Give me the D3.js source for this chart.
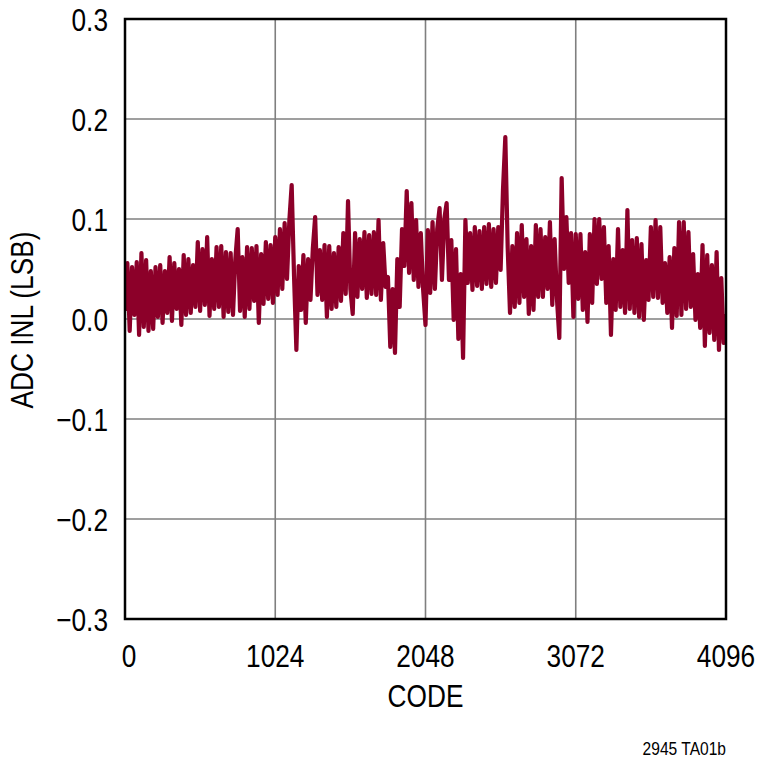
<!DOCTYPE html>
<html>
<head>
<meta charset="utf-8">
<script src="https://cdn.jsdelivr.net/npm/d3@7"></script>
<style>
  body { margin: 0; background: #fff; }
</style>
</head>
<body>
<div id="canvas"></div>
<script>
"use strict"

/* Data: INL (LSB) every 16 codes, 0..4096 */
let codeStep = 16
let inlValues = [
    0.008, 0.056, -0.012, 0.052, 0.004, 0.057, -0.016, 0.066,
    -0.008, 0.059, -0.012, 0.048, -0.01, 0.052, 0.002, 0.054,
    -0.004, 0.048, 0.006, 0.062, -0.002, 0.056, 0.01, 0.05,
    -0.006, 0.064, 0.004, 0.06, 0.006, 0.054, 0.012, 0.077,
    0.008, 0.07, 0.014, 0.082, 0.003, 0.06, 0.01, 0.072,
    0.012, 0.073, 0.002, 0.067, 0.007, 0.066, 0.004, 0.06,
    0.09, 0.008, 0.062, 0.002, 0.072, 0.01, 0.071, 0.018,
    0.073, -0.004, 0.065, 0.015, 0.077, 0.02, 0.074, 0.016,
    0.082, 0.024, 0.09, 0.03, 0.096, 0.04, 0.098, 0.134,
    0.043, -0.031, 0.053, 0.009, 0.064, -0.004, 0.06, 0.019,
    0.07, 0.102, 0.024, 0.069, 0.019, 0.074, 0.002, 0.073,
    0.01, 0.066, 0.012, 0.072, 0.018, 0.086, 0.025, 0.118,
    0.03, 0.005, 0.086, 0.022, 0.08, 0.03, 0.087, 0.021,
    0.084, 0.025, 0.087, 0.024, 0.099, 0.019, 0.076, 0.032,
    0.042, -0.028, 0.03, -0.034, 0.06, 0.012, 0.09, 0.053,
    0.128, 0.046, 0.116, 0.039, 0.099, 0.032, 0.086, 0.029,
    -0.006, 0.089, 0.026, 0.097, 0.03, 0.09, 0.111, 0.039,
    0.1, 0.116, 0.039, 0.079, -0.001, 0.07, -0.02, 0.045,
    -0.039, 0.099, 0.036, 0.086, 0.029, 0.092, 0.033, 0.088,
    0.03, 0.092, 0.035, 0.095, 0.032, 0.09, 0.036, 0.092,
    0.049, 0.129, 0.182, 0.072, 0.006, 0.073, 0.012, 0.086,
    0.016, 0.094, 0.022, 0.08, 0.005, 0.073, 0.009, 0.094,
    0.022, 0.09, 0.022, 0.082, 0.03, 0.097, 0.014, 0.08,
    0.02, -0.019, 0.141, 0.05, 0.102, 0.036, 0.086, 0.002,
    0.085, 0.02, 0.085, 0.009, 0.067, -0.003, 0.085, 0.016,
    0.1, 0.035, 0.1, 0.04, 0.092, 0.016, 0.073, -0.016,
    0.06, 0.009, 0.09, 0.012, 0.069, 0.006, 0.109, 0.01,
    0.079, 0.006, 0.081, 0.002, 0.075, -0.001, 0.059, 0.019,
    0.092, 0.022, 0.099, 0.021, 0.092, 0.016, 0.056, 0.006,
    0.062, -0.009, 0.071, 0.003, 0.097, 0.004, 0.097, 0.01,
    0.087, 0.012, 0.065, -0.001, 0.045, -0.009, 0.074, -0.027,
    0.064, -0.014, 0.054, -0.021, 0.067, -0.031, 0.041, -0.024,
    0.005
]
let xTicks = [0, 1024, 2048, 3072, 4096]
let yTicks = [-0.3, -0.2, -0.1, 0, 0.1, 0.2, 0.3]

let svgWidth = 760
let svgHeight = 765
let margin = {
    top: 19,
    right: 34,
    bottom: 146,
    left: 125
}
let plotWidth = svgWidth - margin.left - margin.right
let plotHeight = svgHeight - margin.top - margin.bottom
/* condensed look: Liberation Sans squeezed horizontally */
let fontFamily = "'Liberation Sans', Arial, sans-serif"
let squeeze = 0.82

/*Create drawing canvas*/
let svg = d3.select("#canvas")
    .append("svg")
    .attr("width", svgWidth)
    .attr("height", svgHeight)

let viz = svg.append("g")
    .attr("transform", `translate(${margin.left},${margin.top})`)

/* scales */
let xScale = d3.scaleLinear()
    .domain([0, 4096])
    .range([0, plotWidth])

let yScale = d3.scaleLinear()
    .domain([-0.3, 0.3])
    .range([plotHeight, 0])

/* grid lines */
viz.selectAll("line.vgrid")
    .data(xTicks.slice(1, -1))
    .join("line")
    .classed("vgrid", true)
    .attr("x1", d => xScale(d))
    .attr("x2", d => xScale(d))
    .attr("y1", 0)
    .attr("y2", plotHeight)
    .attr("stroke", "#7f7f7f")
    .attr("stroke-width", 1.6)

viz.selectAll("line.hgrid")
    .data(yTicks.slice(1, -1))
    .join("line")
    .classed("hgrid", true)
    .attr("x1", 0)
    .attr("x2", plotWidth)
    .attr("y1", d => yScale(d))
    .attr("y2", d => yScale(d))
    .attr("stroke", "#7f7f7f")
    .attr("stroke-width", 1.6)

/* the INL trace, clipped to the plot box */
svg.append("clipPath")
    .attr("id", "plotClip")
    .append("rect")
    .attr("width", plotWidth)
    .attr("height", plotHeight)

let line = d3.line()
    .x((d, i) => xScale(i * codeStep))
    .y(d => yScale(d))

viz.append("path")
    .datum(inlValues)
    .attr("clip-path", "url(#plotClip)")
    .attr("d", line)
    .attr("fill", "none")
    .attr("stroke", "#8c0029")
    .attr("stroke-width", 4.2)
    .attr("stroke-linejoin", "round")

/* plot frame */
viz.append("rect")
    .attr("width", plotWidth)
    .attr("height", plotHeight)
    .attr("fill", "none")
    .attr("stroke", "black")
    .attr("stroke-width", 2.5)

/* helper for squeezed text placed at (x, y) */
function squeezed(sel, x, y) {
    return sel.attr("transform", `translate(${x},${y}) scale(${squeeze},1)`)
}

/* tick labels */
let yFormat = d3.format(".1f")
viz.selectAll("text.ytick")
    .data(yTicks)
    .join("text")
    .classed("ytick", true)
    .attr("transform", d => `translate(-17,${yScale(d) + 11.5}) scale(${squeeze},1)`)
    .attr("text-anchor", "end")
    .style("font-family", fontFamily)
    .style("font-size", "32px")
    .text(d => yFormat(d))

viz.selectAll("text.xtick")
    .data(xTicks)
    .join("text")
    .classed("xtick", true)
    .attr("transform", d => `translate(${xScale(d) + (d === 0 ? 4 : 0)},${plotHeight + 48}) scale(${squeeze},1)`)
    .attr("text-anchor", "middle")
    .style("font-family", fontFamily)
    .style("font-size", "32px")
    .text(d => d)

/* axis titles */
viz.append("text")
    .call(squeezed, plotWidth / 2, plotHeight + 88)
    .attr("text-anchor", "middle")
    .style("font-family", fontFamily)
    .style("font-size", "32px")
    .text("CODE")

viz.append("text")
    .attr("transform", `translate(${-92},${plotHeight / 2 + 1}) rotate(-90) scale(${squeeze},1)`)
    .attr("text-anchor", "middle")
    .style("font-family", fontFamily)
    .style("font-size", "32px")
    .text("ADC INL (LSB)")

/* figure id */
svg.append("text")
    .call(squeezed, 726, 755)
    .attr("text-anchor", "end")
    .style("font-family", fontFamily)
    .style("font-size", "19px")
    .text("2945 TA01b")
</script>
</body>
</html>
